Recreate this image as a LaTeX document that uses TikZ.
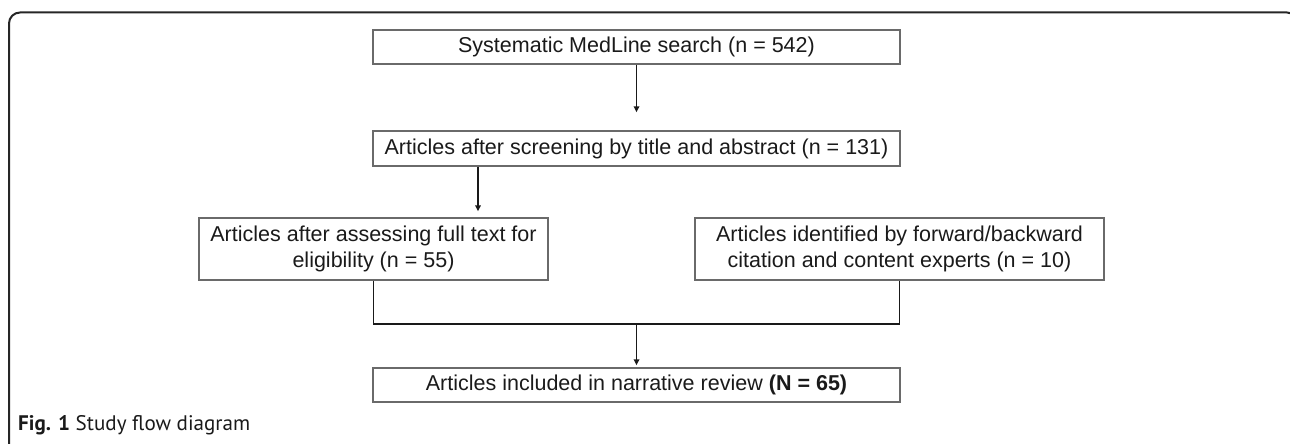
\documentclass[tikz,border=0pt]{standalone}
\usepackage{fontspec}
\setmainfont{Liberation Sans}
\newfontfamily\capfont{PT Sans}
\usetikzlibrary{arrows.meta}
\definecolor{txt}{HTML}{1A1A1A}
\definecolor{boxline}{HTML}{6A6A6A}
\tikzset{
  flowbox/.style={draw=boxline, line width=1.4pt, inner sep=0pt, align=center,
    text=txt, font=\fontsize{21.5}{26}\selectfont},
  link/.style={draw=black!90, line width=1.6pt},
  arr/.style={link, -{Triangle[length=6pt,width=5.5pt]}},
  framestyle/.style={draw=black!85, line width=2pt, rounded corners=11pt},
}
\begin{document}
\begin{tikzpicture}[x=1pt,y=-1pt]
\useasboundingbox (0,0) rectangle (1290,444);
\begin{scope}
\clip (0,0) rectangle (1290,444);
\draw[framestyle] (9,480) -- (9,12.5) -- (1298,12.5) -- (1298,480);
\end{scope}

\node[flowbox, minimum width=527pt, minimum height=34pt] (b1) at (636.5,47)
  {Systematic MedLine search (n = 542)};
\node[flowbox, minimum width=527pt, minimum height=35pt] (b2) at (636.5,148.5)
  {Articles after screening by title and abstract (n = 131)};
\node[flowbox, minimum width=349pt, minimum height=62pt] (b3) at (373.5,249)
  {Articles after assessing full text for\\eligibility (n = 55)};
\node[flowbox, minimum width=409pt, minimum height=62pt] (b4) at (899.5,249)
  {Articles identified by forward/backward\\citation and content experts (n = 10)};
\node[flowbox, minimum width=527pt, minimum height=34pt] (b5) at (636.5,385)
  {Articles included in narrative review \textbf{(N = 65)}};

\coordinate (a2) at (478,0);
\coordinate (jn) at (636.5,324);

\draw[arr, shorten >=18pt] (b1.south) -- (b2.north);
\draw[arr, shorten >=6pt] (b2.south -| a2) -- (b3.north -| a2);
\draw[link] (b3.south) |- (jn) -| (b4.south);
\draw[arr, shorten >=2pt] (jn) -- (b5.north);

\node[anchor=base west, inner sep=0pt, text=txt] (cap) at (18,430)
  {\resizebox{232pt}{!}{\capfont\fontsize{20}{24}\selectfont\textbf{Fig. 1} Study flow diagram}};
\end{tikzpicture}
\end{document}
